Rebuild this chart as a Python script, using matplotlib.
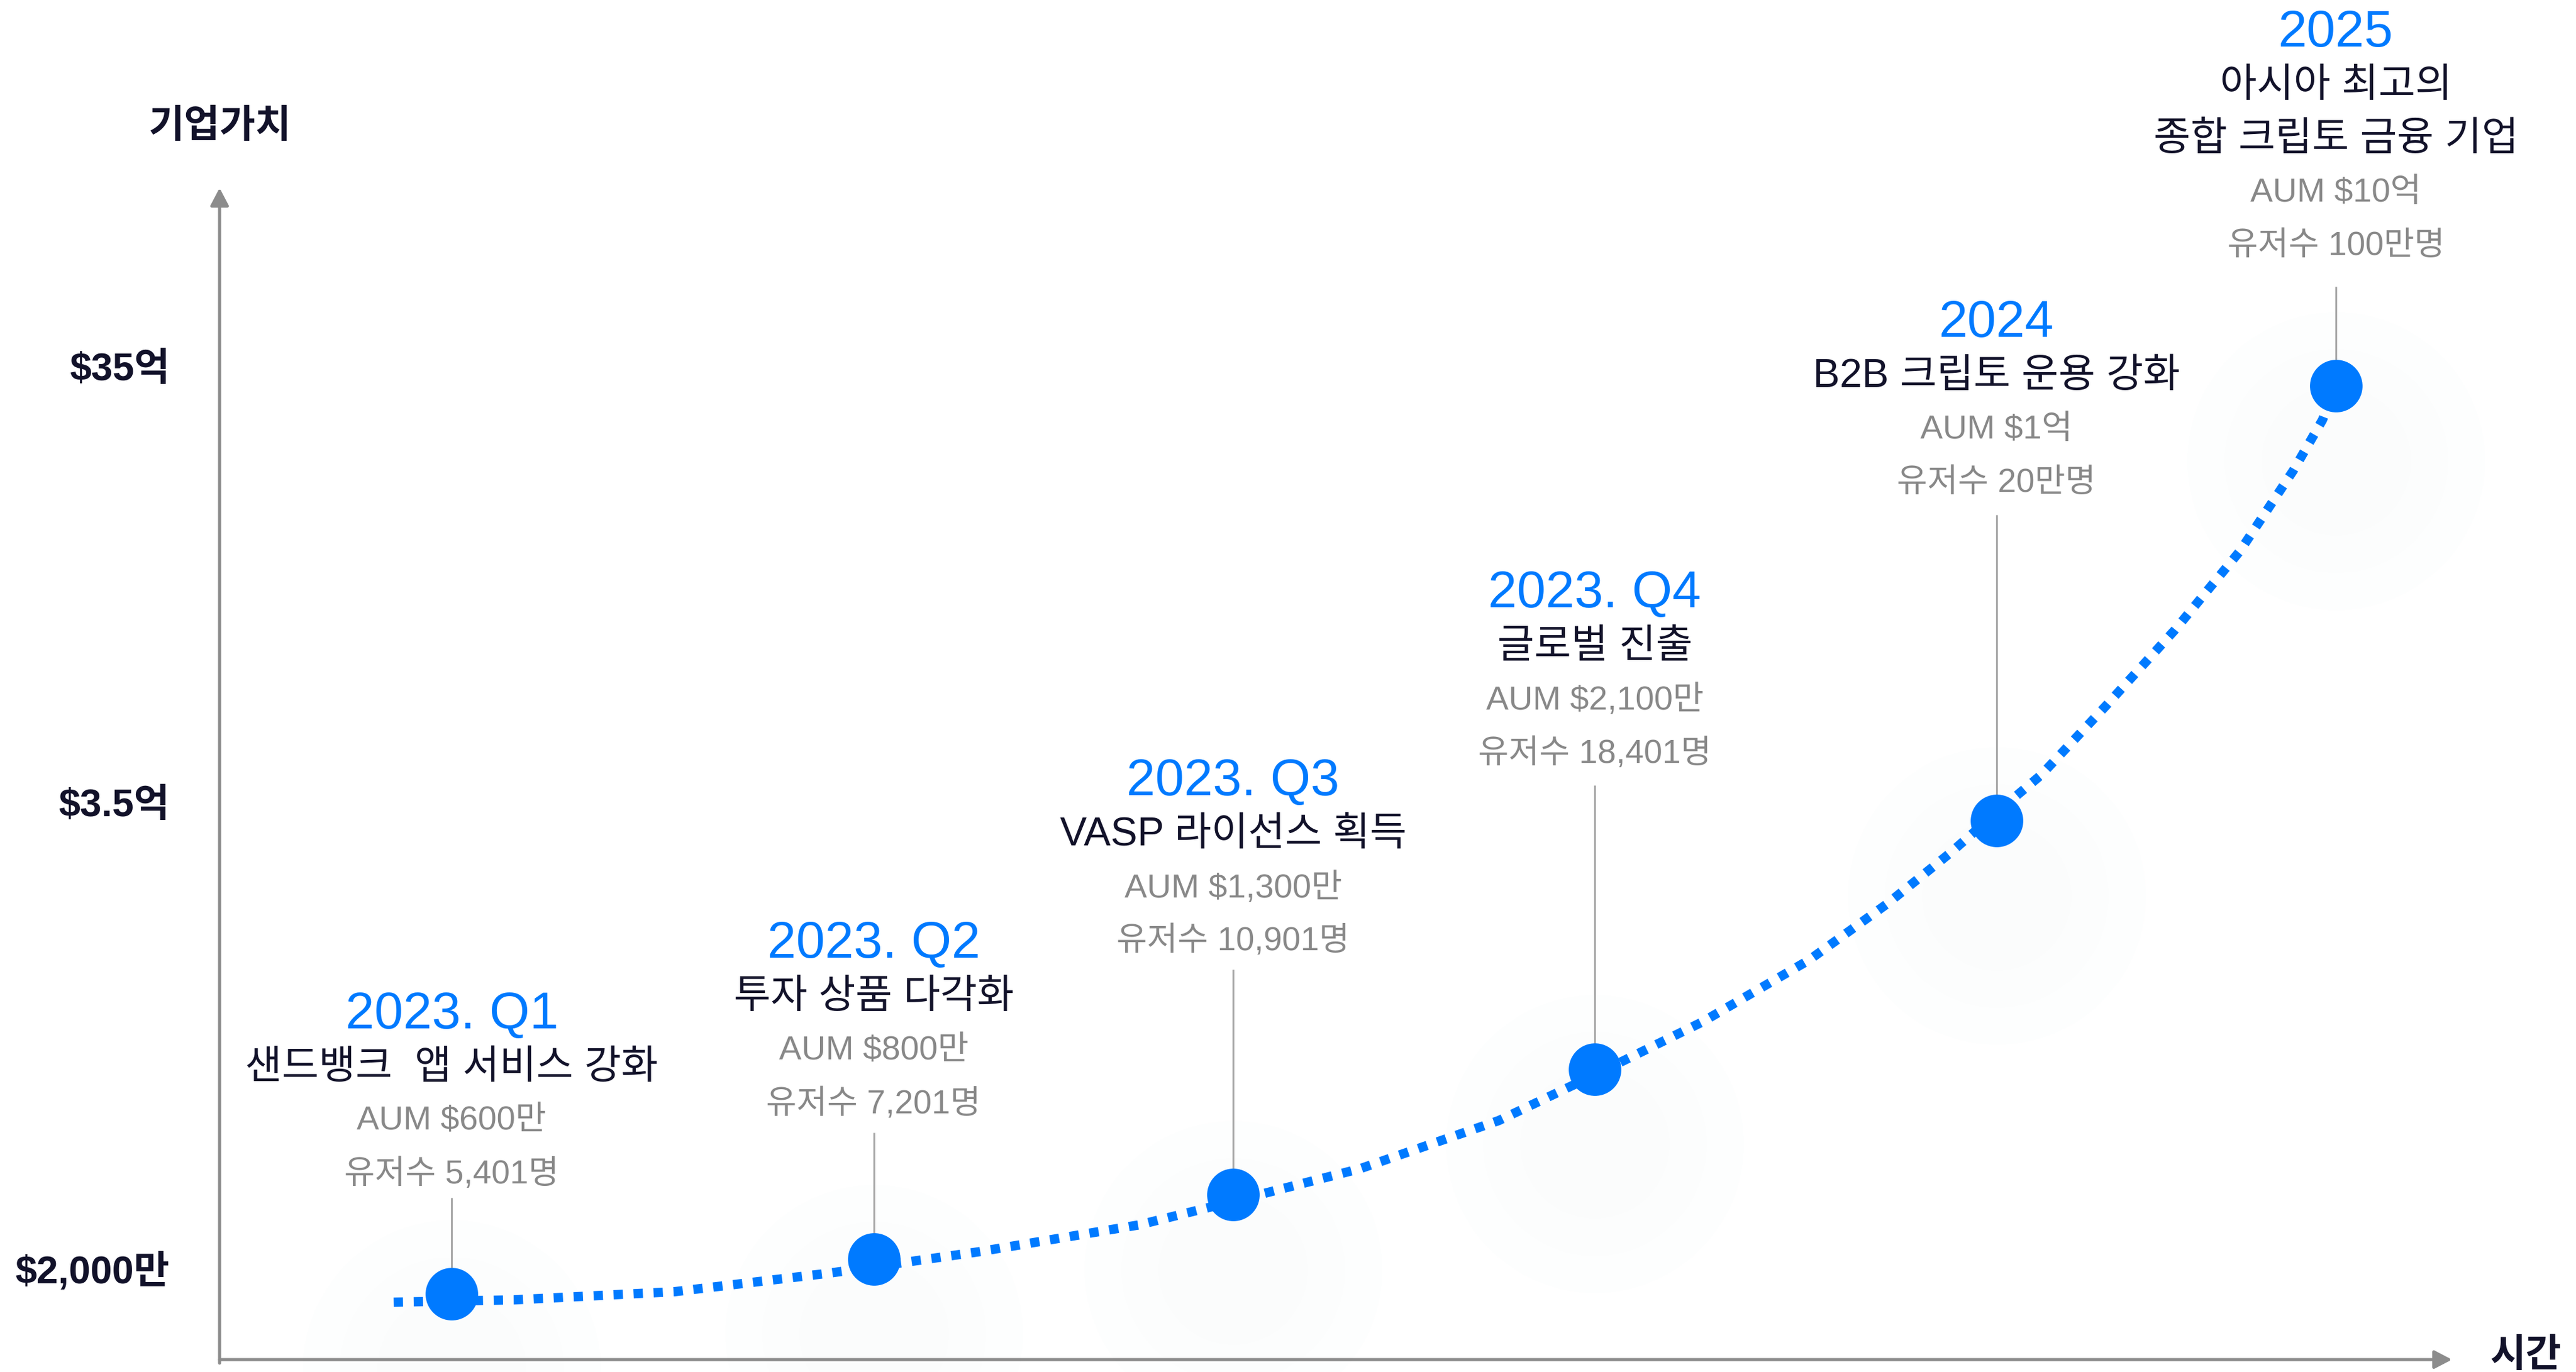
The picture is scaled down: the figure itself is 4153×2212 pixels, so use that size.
import matplotlib
matplotlib.use("Agg")
import matplotlib.pyplot as plt
import numpy as np

plt.rcParams['font.family'] = ['Liberation Sans', 'Noto Sans CJK KR']

# 마일스톤 데이터 (x: 시간축 0-100, y: 기업가치축 0-100)
years = ['2023. Q1', '2023. Q2', '2023. Q3', '2023. Q4', '2024', '2025']
titles = ['샌드뱅크  앱 서비스 강화', '투자 상품 다각화', 'VASP 라이선스 획득',
          '글로벌 진출', 'B2B 크립토 운용 강화', '아시아 최고의\n종합 크립토 금융 기업']
aum = ['AUM $600만', 'AUM $800만', 'AUM $1,300만', 'AUM $2,100만', 'AUM $1억', 'AUM $10억']
users = ['유저수 5,401명', '유저수 7,201명', '유저수 10,901명', '유저수 18,401명',
         '유저수 20만명', '유저수 100만명']
milestone_x = [10.4, 29.3, 45.4, 61.6, 79.6, 94.8]
milestone_y = [5.6, 8.6, 14.1, 24.8, 46.0, 83.1]

# 성장 곡선 (점선)
curve_x = [7.8, 13.2, 20.4, 27.4, 34.0, 41.2, 45.4, 51.1, 57.3, 61.6, 66.4, 71.2,
           74.7, 77.5, 79.6, 81.6, 84.5, 87.6, 90.5, 92.9, 94.2, 94.8]
curve_y = [4.9, 5.1, 5.8, 7.4, 9.2, 11.5, 13.5, 16.3, 20.4, 24.3, 28.8, 34.1,
           38.9, 43.2, 46.7, 49.9, 55.8, 62.3, 69.0, 75.9, 80.2, 83.1]

# y축 눈금
tick_y = [7.8, 47.6, 84.8]
tick_labels = ['$2,000만', '$3.5억', '$35억']

# 레이아웃: 유저수 라벨 위치, 연결선 위쪽 끝
label_y = [15.8, 21.8, 35.7, 51.7, 74.8, 95.0]
stem_top = [13.8, 19.4, 33.3, 49.0, 72.1, 91.6]

BLUE = '#007aff'
DARK = '#12122a'
GRAY = '#888888'
AXIS = '#8c8c8c'

W, H = 4153, 2212
fig = plt.figure(figsize=(W / 100, H / 100), dpi=100)
ax = fig.add_axes([354 / W, 1 - 2192 / H, (3953 - 354) / W, (2192 - 303) / H])
ax.set_xlim(0, 100)
ax.set_ylim(0, 100)
for s in ax.spines.values():
    s.set_visible(False)
ax.set_xticks([])
ax.set_yticks(tick_y)
ax.set_yticklabels(tick_labels, fontsize=45, fontweight='bold', color=DARK)
ax.tick_params(axis='y', length=0, pad=58)

# 축 화살표
arrow = dict(arrowstyle='-|>,head_length=0.86,head_width=0.45', color=AXIS, lw=3.6,
             mutation_scale=20, shrinkA=0, shrinkB=0)
ax.annotate('', xy=(0, 1), xytext=(0, -0.003), xycoords='axes fraction', arrowprops=arrow)
ax.annotate('', xy=(1, 0), xytext=(0, 0), xycoords='axes fraction', arrowprops=arrow)
ax.text(0, 1.052, '기업가치', transform=ax.transAxes, ha='center', va='center',
        fontsize=45, fontweight='bold', color=DARK)
ax.text(1.033, 0.0185, '시간', transform=ax.transAxes, ha='center', va='top',
        fontsize=45, fontweight='bold', color=DARK, clip_on=False)

# 은은한 그림자
mx = np.array(milestone_x)
my = np.array(milestone_y)
for r in [240, 180, 120]:
    ax.scatter(mx, my - 6.4, s=(2 * r * 0.72) ** 2, color='#d3dcf4', alpha=0.022,
               lw=0, zorder=1, clip_on=False)

# 연결선
ax.vlines(mx, my, stem_top, color='#aaaaaa', lw=2.2, zorder=2)

# 곡선
ax.plot(curve_x, curve_y, color=BLUE, lw=10.8, linestyle=(0, (1.0, 1.15)),
        dash_capstyle='butt', zorder=3, clip_on=False)

# 마커
ax.plot(mx, my, 'o', ms=61, color=BLUE, mec='none', zorder=5, clip_on=False)

# 텍스트 블록
step = 86 * 0.72
for i in range(len(years)):
    x, y = milestone_x[i], label_y[i]
    ax.annotate(users[i], (x, y), xytext=(0, 0), textcoords='offset points',
                ha='center', va='center', fontsize=38.5, color=GRAY, annotation_clip=False)
    ax.annotate(aum[i], (x, y), xytext=(0, step), textcoords='offset points',
                ha='center', va='center', fontsize=39, color=GRAY, annotation_clip=False)
    lines = titles[i].split('\n')
    for j, line in enumerate(reversed(lines)):
        ax.annotate(line, (x, y), xytext=(0, step * (2 + j)), textcoords='offset points',
                    ha='center', va='center', fontsize=46.5, color=DARK, annotation_clip=False)
    ax.annotate(years[i], (x, y), xytext=(0, step * (2 + len(lines))),
                textcoords='offset points', ha='center', va='center', fontsize=60,
                color=BLUE, annotation_clip=False)

fig.savefig('out.png', dpi=100)
